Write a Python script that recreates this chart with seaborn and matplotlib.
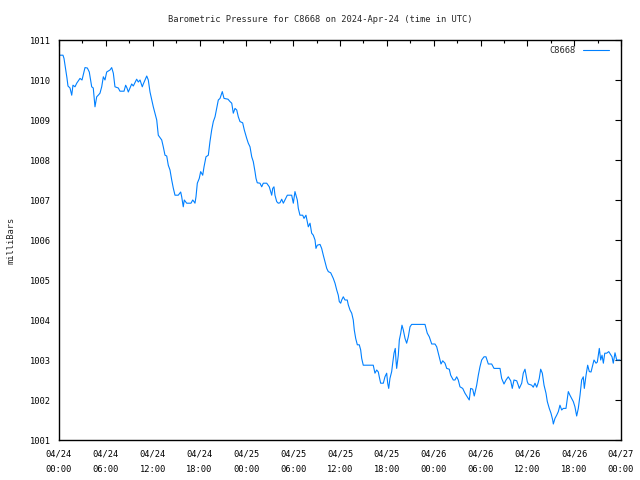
import numpy as np
import pandas as pd
import matplotlib
matplotlib.use("Agg")
import matplotlib.pyplot as plt
import matplotlib.dates as mdates
from matplotlib.ticker import MultipleLocator
import seaborn as sns

# ---- data (hours since 2024-04-24 00:00 UTC, pressure in mbar) ----
hours = [0.13, 0.51, 0.64, 0.83, 1.02, 1.15, 1.41, 1.63, 1.79, 2.05, 2.27, 2.69, 2.95,
         3.33, 3.63, 3.88, 4.19, 4.39, 4.61, 4.83, 5.03, 5.25, 5.47, 5.68, 5.89, 6.11,
         6.53, 6.75, 6.96, 7.17, 7.6, 7.81, 8.33, 8.54, 8.71, 8.88, 9.31, 9.52, 9.95,
         10.16, 10.38, 10.67, 10.8, 11.24, 11.44, 11.66, 12.08, 12.52, 12.72, 13.16,
         13.36, 13.58, 13.8, 14.0, 14.22, 14.44, 14.64, 14.86, 15.28, 15.59, 15.72,
         15.92, 16.05, 16.36, 16.91, 17.13, 17.29, 17.42, 17.55, 17.72, 17.97, 18.15,
         18.41, 18.58, 18.83, 19.13, 19.34, 19.56, 19.77, 19.99, 20.2, 20.41, 20.63,
         20.92, 21.14, 21.65, 21.91, 22.13, 22.33, 22.55, 22.77, 22.97, 23.19, 23.53,
         23.74, 24.05, 24.25, 24.47, 24.69, 24.89, 25.11, 25.24, 25.4, 25.75, 25.97,
         26.17, 26.61, 26.94, 27.12, 27.25, 27.38, 27.54, 27.67, 27.89, 28.09, 28.31,
         28.53, 28.74, 28.95, 29.25, 29.81, 29.94, 30.02, 30.23, 30.36, 30.53, 30.66,
         30.87, 31.22, 31.39, 31.64, 31.94, 32.16, 32.37, 32.58, 32.8, 32.92, 33.09,
         33.44, 33.65, 33.86, 34.08, 34.3, 34.5, 34.81, 35.14, 35.36, 35.58, 35.78,
         35.91, 36.09, 36.22, 36.42, 36.64, 36.93, 37.06, 37.28, 37.5, 37.7, 37.83,
         38.01, 38.22, 38.47, 38.65, 38.78, 38.98, 40.26, 40.48, 40.7, 40.91, 41.03,
         41.21, 41.55, 41.76, 41.98, 42.11, 42.24, 42.4, 42.62, 42.75, 42.92, 43.08,
         43.17, 43.26, 43.47, 43.6, 43.78, 43.94, 44.11, 44.33, 44.54, 44.75, 44.97,
         45.18, 46.89, 47.02, 47.18, 47.44, 47.75, 48.17, 48.39, 48.59, 48.81, 48.94,
         49.16, 49.45, 49.67, 50.0, 50.18, 50.51, 50.73, 50.95, 51.15, 51.37, 51.72,
         52.01, 52.31, 52.56, 52.74, 53.0, 53.2, 53.51, 53.72, 53.93, 54.15, 54.45,
         54.7, 55.0, 55.43, 55.73, 56.5, 56.71, 57.01, 57.27, 57.56, 57.87, 58.07,
         58.29, 58.64, 58.84, 58.97, 59.28, 59.48, 59.7, 59.99, 60.12, 60.56, 60.76,
         60.98, 61.2, 61.37, 61.53, 61.71, 61.92, 62.14, 62.39, 62.56, 62.81, 63.03,
         63.25, 63.33, 63.54, 63.76, 63.97, 64.18, 64.4, 64.61, 64.95, 65.25, 65.46,
         65.68, 65.89, 66.1, 66.32, 66.53, 66.75, 66.96, 67.17, 67.3, 67.52, 67.73,
         67.94, 68.16, 68.37, 68.54, 68.8, 68.97, 69.22, 69.4, 69.57, 69.74, 69.92,
         70.17, 70.43, 70.85, 71.01, 71.23, 71.45, 71.78, 71.87]

pressure = [1010.62, 1010.62, 1010.54, 1010.3, 1010.05, 1009.85, 1009.8, 1009.62, 1009.87,
            1009.83, 1009.92, 1010.04, 1010.0, 1010.31, 1010.3, 1010.2, 1009.83, 1009.8,
            1009.33, 1009.58, 1009.62, 1009.67, 1009.83, 1010.08, 1010.0, 1010.2, 1010.25,
            1010.31, 1010.17, 1009.83, 1009.8, 1009.72, 1009.72, 1009.87, 1009.8, 1009.7,
            1009.9, 1009.85, 1010.02, 1009.95, 1010.0, 1009.83, 1009.9, 1010.1, 1010.0,
            1009.7, 1009.33, 1009.0, 1008.62, 1008.5, 1008.33, 1008.12, 1008.1, 1007.87,
            1007.75, 1007.5, 1007.3, 1007.12, 1007.12, 1007.2, 1007.08, 1006.83, 1007.0,
            1006.92, 1006.92, 1007.0, 1006.96, 1006.92, 1007.08, 1007.42, 1007.54,
            1007.71, 1007.62, 1007.83, 1008.08, 1008.12, 1008.46, 1008.75, 1008.96,
            1009.08, 1009.29, 1009.5, 1009.54, 1009.71, 1009.54, 1009.52, 1009.46,
            1009.42, 1009.17, 1009.29, 1009.25, 1009.08, 1008.96, 1008.93, 1008.75,
            1008.54, 1008.42, 1008.33, 1008.08, 1007.96, 1007.71, 1007.54, 1007.43,
            1007.42, 1007.33, 1007.42, 1007.42, 1007.33, 1007.21, 1007.12, 1007.29,
            1007.33, 1007.12, 1006.96, 1006.92, 1006.93, 1007.02, 1006.92, 1007.0,
            1007.12, 1007.12, 1007.0, 1006.92, 1007.21, 1007.12, 1007.0, 1006.79,
            1006.62, 1006.62, 1006.54, 1006.62, 1006.33, 1006.42, 1006.17, 1006.12,
            1006.0, 1005.79, 1005.87, 1005.89, 1005.79, 1005.62, 1005.46, 1005.29,
            1005.21, 1005.18, 1005.04, 1004.92, 1004.75, 1004.62, 1004.46, 1004.42,
            1004.5, 1004.58, 1004.5, 1004.5, 1004.38, 1004.25, 1004.17, 1004.0, 1003.75,
            1003.54, 1003.38, 1003.38, 1003.25, 1003.04, 1002.87, 1002.87, 1002.67,
            1002.75, 1002.7, 1002.58, 1002.42, 1002.42, 1002.58, 1002.67, 1002.42,
            1002.29, 1002.54, 1002.71, 1002.92, 1003.17, 1003.29, 1003.0, 1002.79,
            1003.12, 1003.5, 1003.67, 1003.87, 1003.75, 1003.54, 1003.42, 1003.58,
            1003.83, 1003.89, 1003.89, 1003.79, 1003.67, 1003.58, 1003.4, 1003.4,
            1003.33, 1003.17, 1003.0, 1002.9, 1002.98, 1002.92, 1002.79, 1002.77,
            1002.62, 1002.5, 1002.5, 1002.58, 1002.5, 1002.33, 1002.29, 1002.17,
            1002.08, 1002.0, 1002.29, 1002.27, 1002.1, 1002.37, 1002.62, 1002.83,
            1003.0, 1003.08, 1003.08, 1002.9, 1002.9, 1002.79, 1002.79, 1002.54,
            1002.4, 1002.5, 1002.58, 1002.48, 1002.29, 1002.5, 1002.48, 1002.37,
            1002.29, 1002.42, 1002.67, 1002.77, 1002.46, 1002.4, 1002.37, 1002.32,
            1002.42, 1002.32, 1002.42, 1002.54, 1002.77, 1002.67, 1002.37, 1002.17,
            1001.96, 1001.79, 1001.67, 1001.5, 1001.4, 1001.54, 1001.62, 1001.71,
            1001.87, 1001.75, 1001.79, 1001.79, 1002.21, 1002.12, 1002.04, 1001.96,
            1001.83, 1001.6, 1001.79, 1002.12, 1002.5, 1002.58, 1002.29, 1002.62,
            1002.87, 1002.71, 1002.7, 1002.87, 1003.0, 1002.92, 1002.95, 1003.29,
            1003.0, 1003.12, 1002.92, 1003.17, 1003.17, 1003.21, 1003.08, 1002.92,
            1003.18, 1003.0, 1003.0, 1003.0]

station = "C8668"
title = "Barometric Pressure for C8668 on 2024-Apr-24 (time in UTC)"
y_label = "milliBars"
start = pd.Timestamp("2024-04-24 00:00")
end = pd.Timestamp("2024-04-27 00:00")
y_min, y_max = 1001, 1011

df = pd.DataFrame({
    "time": start + pd.to_timedelta(hours, unit="h"),
    "pressure": pressure,
    "station": station,
})

sns.set_theme(style="white")
FONT = "DejaVu Sans Mono"
FS = 6.3
plt.rcParams["font.family"] = [FONT, "DejaVu Sans"]

fig = plt.figure(figsize=(6.4, 4.8), dpi=100)
ax = fig.add_axes([59 / 640, 1 - 440 / 480, 562 / 640, 400 / 480])

sns.lineplot(data=df, x="time", y="pressure", hue="station",
             palette=["#0080ff"], linewidth=0.8, ax=ax)

ax.set_xlim(start, end)
ax.set_ylim(y_min, y_max)
ax.yaxis.set_major_locator(MultipleLocator(1))
ax.xaxis.set_major_locator(mdates.HourLocator(byhour=[0, 6, 12, 18]))
ax.xaxis.set_minor_locator(mdates.HourLocator(byhour=[3, 9, 15, 21]))
ax.xaxis.set_major_formatter(mdates.DateFormatter("%m/%d\n%H:%M"))

for s in ax.spines.values():
    s.set_color("black")
    s.set_linewidth(1.0)

ax.tick_params(axis="both", which="both", direction="in", top=True, right=True,
               colors="black", labelsize=FS, width=0.8)
ax.tick_params(axis="both", which="major", length=4.5)
ax.tick_params(axis="x", which="major", pad=7)
ax.tick_params(axis="x", which="minor", length=2.5)
ax.tick_params(axis="y", which="major", pad=6)
for lab in ax.get_xticklabels() + ax.get_yticklabels():
    lab.set_fontfamily(FONT)
    lab.set_linespacing(1.9)

ax.set_xlabel("")
ax.set_ylabel(y_label, fontsize=FS, fontfamily=FONT)
ax.yaxis.set_label_coords(-0.077, 0.5)
fig.text(0.5, 1 - 19 / 480, title, ha="center", va="center",
         fontsize=FS, fontfamily=FONT)

ax.legend(loc="upper right", bbox_to_anchor=(0.99, 1.0), frameon=False,
          markerfirst=False, prop={"family": FONT, "size": FS},
          handlelength=3.0, handletextpad=0.8, borderaxespad=0.3, title=None)

fig.savefig("out.png", dpi=100)
